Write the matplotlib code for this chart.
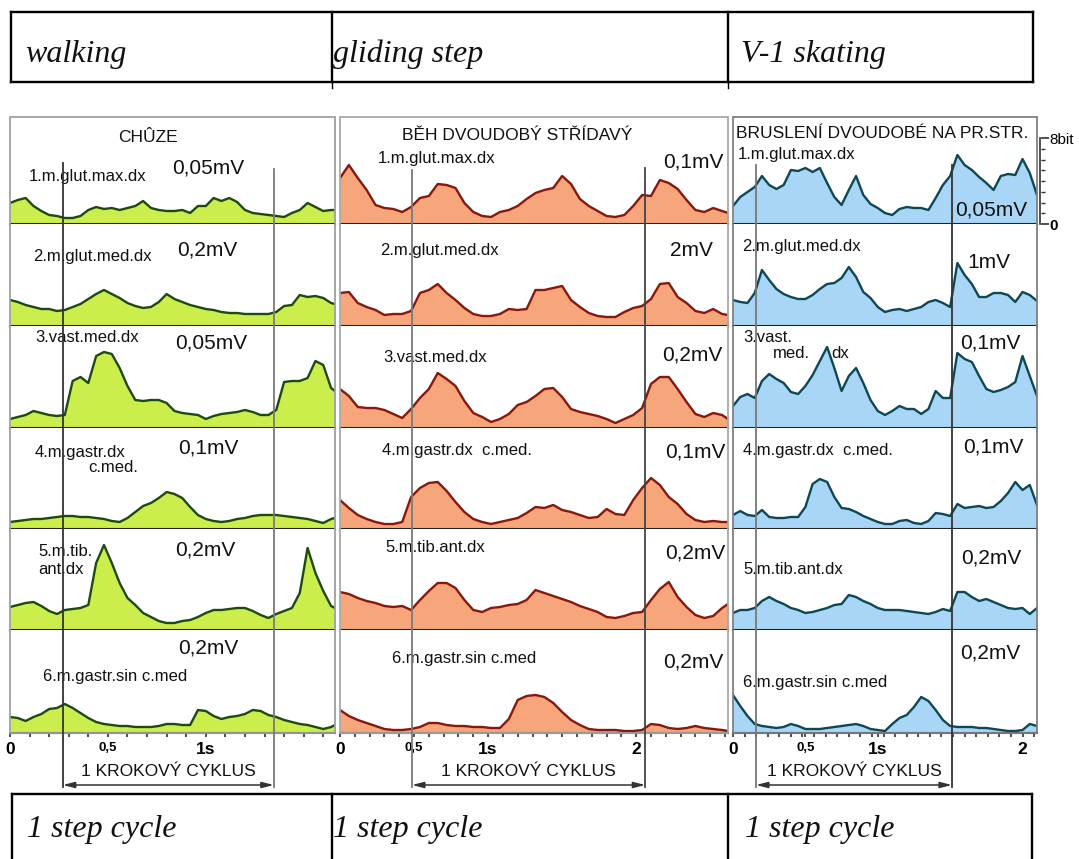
import numpy as np
import matplotlib
matplotlib.use("Agg")
import matplotlib.pyplot as plt
import matplotlib.transforms as mtransforms
from matplotlib.patches import Rectangle
from matplotlib.ticker import MultipleLocator

plt.rcParams['font.family'] = ['Liberation Sans', 'DejaVu Sans']

# ---------------- data (EMG envelopes, amplitude in arbitrary units) ----------------
t_walk = np.append(np.arange(42) * 0.04, 1.66)
t_glide = np.append(np.arange(44) * 0.06, 2.62)
t_skate = np.arange(43) * 0.05

walk_1 = [21, 24, 26, 18, 13, 9, 8, 6, 6, 8, 14, 17, 15, 16, 14, 16, 18, 23, 16, 14, 13, 13, 14, 11, 18, 18, 26, 23, 26, 22, 14, 11, 10, 9, 8, 7, 11, 14, 21, 17, 13, 14, 14]
walk_2 = [26, 24, 21, 19, 17, 17, 15, 16, 19, 22, 27, 32, 36, 32, 28, 23, 20, 18, 19, 24, 32, 27, 24, 21, 19, 17, 16, 14, 13, 13, 12, 12, 12, 12, 14, 20, 21, 31, 29, 30, 28, 23, 22]
walk_3 = [9, 11, 13, 17, 15, 13, 12, 13, 47, 51, 45, 72, 76, 74, 60, 42, 28, 27, 28, 28, 25, 17, 15, 14, 13, 9, 12, 14, 15, 16, 18, 16, 13, 13, 18, 46, 47, 47, 50, 67, 63, 40, 37]
walk_4 = [7, 8, 9, 10, 10, 11, 12, 13, 13, 12, 12, 11, 10, 8, 7, 11, 17, 23, 26, 31, 37, 35, 31, 22, 14, 10, 8, 7, 8, 10, 11, 13, 14, 14, 14, 13, 12, 11, 10, 8, 6, 10, 11]
walk_5 = [23, 25, 27, 28, 24, 19, 16, 20, 21, 22, 25, 67, 85, 67, 47, 32, 25, 17, 13, 9, 7, 7, 9, 10, 13, 17, 20, 20, 21, 22, 22, 19, 15, 12, 16, 19, 22, 37, 82, 57, 39, 24, 22]
walk_6 = [16, 15, 12, 16, 19, 24, 25, 29, 25, 20, 15, 11, 9, 8, 7, 7, 6, 6, 6, 7, 9, 9, 8, 8, 23, 22, 17, 14, 16, 17, 19, 23, 22, 18, 16, 13, 11, 9, 8, 6, 4, 6, 8]

glide_1 = [46, 59, 46, 34, 19, 16, 15, 12, 17, 26, 28, 40, 39, 36, 21, 12, 8, 7, 12, 14, 18, 25, 31, 34, 36, 48, 40, 25, 18, 13, 8, 7, 9, 18, 29, 28, 44, 41, 35, 24, 14, 12, 16, 13, 11]
glide_2 = [33, 34, 23, 19, 16, 11, 12, 12, 15, 33, 36, 42, 33, 26, 18, 12, 10, 10, 12, 17, 16, 17, 36, 36, 38, 40, 26, 19, 13, 10, 9, 9, 14, 18, 20, 27, 42, 43, 29, 23, 15, 13, 17, 12, 11]
glide_3 = [39, 32, 21, 20, 20, 18, 14, 10, 19, 30, 39, 55, 49, 42, 27, 15, 11, 6, 9, 14, 23, 26, 32, 39, 40, 31, 19, 16, 14, 12, 9, 5, 9, 13, 20, 44, 51, 51, 39, 26, 14, 11, 15, 13, 9]
glide_4 = [29, 21, 14, 10, 7, 5, 5, 7, 32, 41, 46, 47, 38, 27, 17, 10, 7, 5, 7, 9, 11, 16, 22, 21, 24, 19, 17, 14, 11, 12, 20, 15, 14, 29, 41, 51, 44, 32, 25, 15, 9, 7, 8, 7, 7]
glide_5 = [38, 36, 32, 29, 27, 24, 23, 24, 20, 30, 39, 47, 47, 42, 30, 20, 18, 22, 23, 25, 26, 30, 40, 37, 34, 31, 28, 24, 21, 18, 13, 12, 14, 17, 18, 30, 41, 48, 33, 23, 15, 12, 14, 22, 26]
glide_6 = [23, 17, 13, 10, 7, 4, 3, 3, 4, 6, 10, 10, 8, 7, 7, 6, 6, 5, 5, 14, 33, 37, 38, 36, 30, 21, 13, 8, 4, 3, 3, 3, 2, 2, 3, 9, 8, 5, 4, 5, 7, 5, 4, 3, 2]

skate_1 = [18, 27, 32, 37, 48, 39, 35, 39, 54, 53, 56, 52, 56, 41, 27, 19, 34, 48, 29, 20, 16, 11, 9, 15, 17, 16, 16, 14, 26, 39, 48, 69, 59, 54, 47, 41, 34, 48, 50, 49, 65, 51, 29]
skate_2 = [26, 24, 23, 33, 56, 46, 37, 32, 29, 27, 27, 31, 37, 42, 43, 48, 59, 49, 34, 28, 19, 14, 16, 17, 15, 17, 19, 24, 26, 23, 19, 63, 51, 42, 29, 29, 33, 33, 31, 24, 34, 31, 25]
skate_3 = [22, 31, 34, 30, 47, 54, 49, 45, 36, 34, 42, 53, 67, 81, 60, 37, 52, 60, 45, 28, 17, 13, 17, 22, 19, 19, 14, 19, 37, 30, 30, 75, 69, 66, 52, 39, 36, 38, 41, 46, 72, 52, 32]
skate_4 = [14, 18, 14, 13, 19, 12, 11, 11, 12, 12, 22, 45, 50, 47, 32, 21, 20, 17, 13, 10, 7, 5, 5, 8, 9, 6, 5, 8, 16, 15, 13, 25, 21, 22, 23, 21, 22, 28, 36, 47, 39, 44, 24]
skate_5 = [17, 20, 20, 22, 29, 33, 29, 26, 22, 20, 17, 18, 20, 22, 25, 26, 35, 33, 29, 26, 22, 20, 20, 20, 19, 18, 17, 16, 18, 21, 19, 38, 38, 33, 29, 31, 28, 25, 22, 21, 22, 16, 22]
skate_6 = [38, 27, 17, 9, 7, 6, 5, 6, 9, 7, 4, 4, 4, 5, 6, 7, 8, 9, 7, 4, 3, 2, 9, 15, 18, 26, 36, 32, 23, 13, 7, 6, 6, 6, 5, 5, 4, 3, 2, 2, 3, 9, 7]

panel_titles = ['CHÛZE', 'BĚH DVOUDOBÝ STŘÍDAVÝ', 'BRUSLENÍ DVOUDOBÉ NA PR.STR.']
walk_scales = ['0,05mV', '0,2mV', '0,05mV', '0,1mV', '0,2mV', '0,2mV']
glide_scales = ['0,1mV', '2mV', '0,2mV', '0,1mV', '0,2mV', '0,2mV']
skate_scales = ['0,05mV', '1mV', '0,1mV', '0,1mV', '0,2mV', '0,2mV']
cycle_walk = (0.27, 1.347)
cycle_glide = (0.486, 2.061)
cycle_skate = (0.159, 1.512)
top_labels = ['walking', 'gliding step', 'V-1 skating']
bottom_labels = ['1 step cycle', '1 step cycle', '1 step cycle']
cycle_text = '1 KROKOVÝ CYKLUS'

# ---------------- figure ----------------
W, H = 1079, 859
fig = plt.figure(figsize=(W / 100, H / 100), dpi=100)


def px_axes(x0, x1, y0, y1, **kw):
    return fig.add_axes([x0 / W, 1 - y1 / H, (x1 - x0) / W, (y1 - y0) / H], **kw)


row_edges = [117, 224, 326, 428, 529, 630, 733]

panels = [
    dict(x0=10, x1=335, t=t_walk, rows=[walk_1, walk_2, walk_3, walk_4, walk_5, walk_6],
         fill='#CBEE4C', line='#1E4A10', xmax=1.66, major=[0, 0.5, 1.0], labels=['0', '0,5', '1s'],
         minor=0.1, cyc=cycle_walk, cyc_col=('#333333', '#7a7a7a'), cyc_top=(163, 169), border='#a0a0a0'),
    dict(x0=340, x1=728, t=t_glide, rows=[glide_1, glide_2, glide_3, glide_4, glide_5, glide_6],
         fill='#F6A67A', line='#8A170C', xmax=2.62, major=[0, 0.5, 1.0, 2.0], labels=['0', '0,5', '1s', '2'],
         minor=0.1, cyc=cycle_glide, cyc_col=('#7a7a7a', '#444444'), cyc_top=(170, 168), border='#a8a8a8'),
    dict(x0=733, x1=1037, t=t_skate, rows=[skate_1, skate_2, skate_3, skate_4, skate_5, skate_6],
         fill='#A9D6F6', line='#0D4855', xmax=2.10, major=[0, 0.5, 1.0, 2.0], labels=['0', '0,5', '1s', '2'],
         minor=0.08, cyc=cycle_skate, cyc_col=('#777777', '#333333'), cyc_top=(165, 165), border='#808080'),
]

ov = fig.add_axes([0, 0, 1, 1], zorder=20)
ov.set_xlim(0, W)
ov.set_ylim(H, 0)
ov.axis('off')

bottom_axes = []
for p in panels:
    for r, vals in enumerate(p['rows']):
        y0, y1 = row_edges[r], row_edges[r + 1]
        ax = px_axes(p['x0'], p['x1'], y0, y1)
        ax.fill_between(p['t'], 0, vals, color=p['fill'], lw=0)
        ax.plot(p['t'], vals, color=p['line'], lw=1.7, solid_joinstyle='round')
        ax.set_xlim(0, p['xmax'])
        ax.set_ylim(0, y1 - y0)
        for s in ['top', 'left', 'right']:
            ax.spines[s].set_visible(False)
        ax.spines['bottom'].set_color('#222222')
        ax.spines['bottom'].set_linewidth(1.5)
        ax.set_yticks([])
        if r < 5:
            ax.set_xticks([])
        else:
            ax.set_xticks(p['major'])
            ax.set_xticklabels(p['labels'], fontweight='bold')
            for lbl in ax.get_xticklabels():
                lbl.set_fontsize(9.5 if lbl.get_text() == '0,5' else 12.5)
            ax.xaxis.set_minor_locator(MultipleLocator(p['minor']))
            ax.tick_params(which='both', direction='out', length=3, width=1.2,
                           color='#333333', pad=3.5)
            bottom_axes.append(ax)
    # panel border
    ov.add_patch(Rectangle((p['x0'], row_edges[0]), p['x1'] - p['x0'], row_edges[-1] - row_edges[0],
                           fill=False, ec=p['border'], lw=1.3))

# cycle lines, arrows and labels
for p, ax in zip(panels, bottom_axes):
    tr = mtransforms.blended_transform_factory(ax.transData, ov.transData)
    for tc, col, top in zip(p['cyc'], p['cyc_col'], p['cyc_top']):
        ov.plot([tc, tc], [top, 787], transform=tr, color=col, lw=1.3, zorder=5)
    ov.annotate('', xy=(p['cyc'][1], 785), xycoords=tr, xytext=(p['cyc'][0], 785), textcoords=tr,
                arrowprops=dict(arrowstyle='<|-|>,head_length=0.7,head_width=0.18', color='#333333',
                                lw=1.1, shrinkA=0, shrinkB=0))
    xm = ov.transData.inverted().transform(tr.transform(((p['cyc'][0] + p['cyc'][1]) / 2, 0)))[0]
    ov.text(xm, 772, cycle_text, ha='center', va='center', fontsize=12.5, color='#111111')

# titles
ov.text(148, 137, panel_titles[0], ha='center', va='center', fontsize=12.5, color='#111111')
ov.text(517, 135, panel_titles[1], ha='center', va='center', fontsize=12.5, color='#111111')
ov.text(736, 133, panel_titles[2], ha='left', va='center', fontsize=12.5, color='#111111')

# muscle labels
muscle_txt = [
    ('1.m.glut.max.dx', 29, 177), ('2.m.glut.med.dx', 33, 257), ('3.vast.med.dx', 35, 338),
    ('4.m.gastr.dx', 35, 453), ('c.med.', 88, 468), ('5.m.tib.', 38, 552), ('ant.dx', 38, 570),
    ('6.m.gastr.sin c.med', 43, 677),
    ('1.m.glut.max.dx', 378, 158), ('2.m.glut.med.dx', 380, 250), ('3.vast.med.dx', 383, 357),
    ('4.m.gastr.dx  c.med.', 382, 450), ('5.m.tib.ant.dx', 385, 547), ('6.m.gastr.sin c.med', 392, 658),
    ('1.m.glut.max.dx', 738, 155), ('2.m.glut.med.dx', 742, 247), ('3.vast.', 743, 338),
    ('med.', 773, 353), ('dx', 831, 353), ('4.m.gastr.dx  c.med.', 743, 450),
    ('5.m.tib.ant.dx', 743, 570), ('6.m.gastr.sin c.med', 743, 682),
]
for s, x, y in muscle_txt:
    ov.text(x, y, s, ha='left', va='center', fontsize=12, color='#111111')

scale_pos = [
    [(172, 168), (177, 250), (175, 343), (178, 448), (175, 550), (178, 648)],
    [(663, 162), (670, 250), (662, 355), (665, 452), (665, 553), (663, 662)],
    [(955, 210), (967, 262), (960, 343), (963, 447), (961, 558), (960, 653)],
]
for labels, pos in zip([walk_scales, glide_scales, skate_scales], scale_pos):
    for s, (x, y) in zip(labels, pos):
        ov.text(x, y, s, ha='left', va='center', fontsize=15, color='#111111')

# 8-bit side scale
axr = px_axes(1040, 1040.5, 138, 224)
axr.set_ylim(0, 8)
axr.set_xticks([])
for s in ['top', 'bottom', 'right']:
    axr.spines[s].set_visible(False)
axr.spines['left'].set_color('#333333')
axr.spines['left'].set_linewidth(1.2)
axr.yaxis.tick_right()
axr.set_yticks([0, 8])
axr.set_yticklabels(['0', '8bit'], fontsize=11)
for lbl in axr.get_yticklabels():
    lbl.set_fontweight('bold' if lbl.get_text() == '0' else 'normal')
axr.set_yticks(range(1, 8), minor=True)
axr.tick_params(axis='y', which='major', direction='out', length=6, width=1.2, color='#333333', pad=0.5)
axr.tick_params(axis='y', which='minor', direction='out', length=3, width=1.0, color='#333333')

# tables
tcol = 'black'
for y in (12, 82):
    ov.plot([11, 1033], [y, y], color=tcol, lw=1.7)
for x in (11, 332, 728, 1033):
    ov.plot([x, x], [12, 82], color=tcol, lw=1.7)
for x in (332, 728):
    ov.plot([x, x], [82, 88], color=tcol, lw=1.0)
ov.plot([12, 1032], [794, 794], color=tcol, lw=1.7)
for x in (12, 332, 728, 1032):
    ov.plot([x, x], [794, 860], color=tcol, lw=1.7)

serif = dict(family=['Liberation Serif', 'DejaVu Serif'], style='italic', fontsize=23, color='#111111')
for s, x in zip(top_labels, (25, 333, 741)):
    ov.text(x, 62, s, ha='left', va='baseline', **serif)
for s, x in zip(bottom_labels, (27, 333, 745)):
    ov.text(x, 837, s, ha='left', va='baseline', **serif)

fig.savefig('out.png', dpi=100)
